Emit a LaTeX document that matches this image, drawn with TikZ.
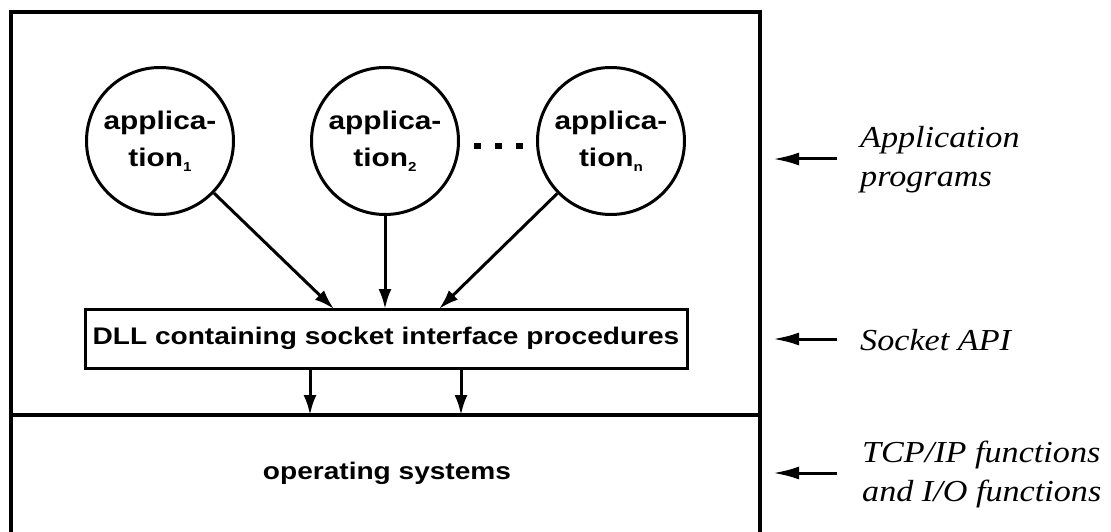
\documentclass[tikz,border=0pt]{standalone}
\usepackage{fontspec}
\usetikzlibrary{arrows.meta}
\newfontfamily\hb{Liberation Sans}[FakeStretch=1.17]
\newfontfamily\lbl{Liberation Serif}[FakeStretch=1.12]
\newcommand{\apsub}[1]{\raisebox{-5pt}{\fontsize{13}{13}\selectfont #1}}
\tikzset{
  frame/.style={line width=3.5pt, line join=miter},
  appnode/.style={circle, draw, line width=3pt, minimum size=147pt, inner sep=0pt, align=center,
    font={\hb\bfseries\fontsize{25.5}{37}\selectfont}},
  dllbox/.style={draw, line width=3pt, minimum width=602pt, minimum height=59pt, inner sep=0pt,
    font={\hb\bfseries\fontsize{24}{28}\selectfont}},
  ostext/.style={font={\hb\bfseries\fontsize{24}{28}\selectfont}},
  sidelabel/.style={anchor=west, align=left, inner sep=0pt, font={\lbl\itshape\fontsize{30.5}{39}\selectfont}},
  arr/.style={line width=3pt, -{Latex[length=20pt,width=13pt]}},
  sidearr/.style={line width=3pt, -{Latex[length=26pt,width=13pt]}},
  dot/.style={fill, minimum width=7pt, minimum height=6pt, inner sep=0pt}
}
\begin{document}
\begin{tikzpicture}[x=1pt,y=-1pt]
\useasboundingbox (0,0) rectangle (1111,532);
% outer frame
\coordinate (bl) at (11,532);
\coordinate (tl) at (11,12);
\coordinate (tr) at (760,12);
\coordinate (br) at (760,532);
\draw[frame] (bl) -- (tl) -- (tr) -- (br);
\coordinate (dl) at (11,415);
\coordinate (dr) at (760,415);
\draw[frame] (dl) -- (dr);
% applications
\node[appnode] (a1) at (160,141) {applica-\\tion\apsub{1}};
\node[appnode] (a2) at (385,141) {applica-\\tion\apsub{2}};
\node[appnode] (an) at (611,141) {applica-\\tion\apsub{n}};
\node[dot] (d1) at (477,146) {};
\node[dot] (d2) at (498,146) {};
\node[dot] (d3) at (519,146) {};
% DLL
\node[dllbox] (dll) at (386,338.5) {DLL containing socket interface procedures};
\coordinate (t1) at (334,309);
\coordinate (t2) at (385,309);
\coordinate (t3) at (439,309);
\draw[arr] (a1) -- (t1);
\draw[arr] (a2) -- (t2);
\draw[arr] (an) -- (t3);
\coordinate (b1) at (310,415);
\coordinate (b2) at (461,415);
\draw[arr] (dll.south -| b1) -- (b1);
\draw[arr] (dll.south -| b2) -- (b2);
% OS
\node[ostext] (os) at (387,473) {operating systems};
% side labels
\node[sidelabel] (l1) at (860,160) {Application\\programs};
\node[sidelabel] (l2) at (860,340) {Socket API};
\node[sidelabel] (l3) at (862,475) {TCP/IP functions\\and I/O functions};
\coordinate (s1a) at (837,159);
\coordinate (s1b) at (773,159);
\coordinate (s2a) at (837,339);
\coordinate (s2b) at (773,339);
\coordinate (s3a) at (837,473);
\coordinate (s3b) at (773,473);
\draw[sidearr] (s1a) -- (s1b);
\draw[sidearr] (s2a) -- (s2b);
\draw[sidearr] (s3a) -- (s3b);
\end{tikzpicture}
\end{document}
